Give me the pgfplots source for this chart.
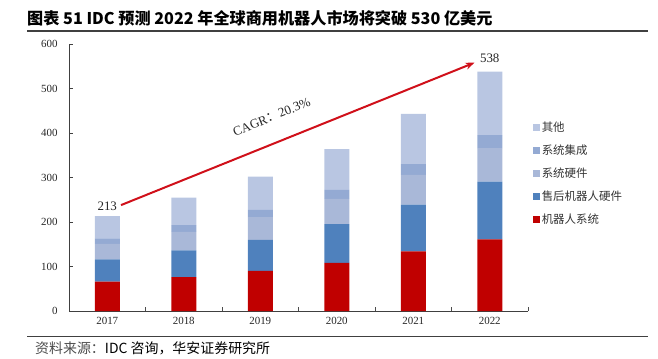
\documentclass[border=0pt]{standalone}
\usepackage{pgfplots}
\pgfplotsset{compat=1.18}
\usepackage{fontspec}
\setmainfont{Liberation Serif}
\newfontfamily\cjk{Noto Sans CJK SC}
\usetikzlibrary{arrows.meta}
\definecolor{cRed}{HTML}{C00000}
\definecolor{cBlue}{HTML}{4F81BD}
\definecolor{cHw}{HTML}{A9B8D8}
\definecolor{cInt}{HTML}{94AAD3}
\definecolor{cOth}{HTML}{B9C6E2}
\definecolor{cArrow}{HTML}{D0101A}
\begin{document}
\begin{tikzpicture}
\useasboundingbox (0bp,0bp) rectangle (658bp,359bp);
% title
\node[anchor=west, inner sep=0pt] at (27bp,341bp) {\cjk\bfseries\fontsize{16.2}{19}\selectfont 图表 51 IDC 预测 2022 年全球商用机器人市场将突破 530 亿美元};
\draw[black!75, line width=1.2bp] (27bp,328bp) -- (648bp,328bp);
\draw[black!75, line width=1bp] (27bp,22bp) -- (648bp,22bp);
\node[anchor=west, inner sep=0pt] at (35bp,11bp) {\cjk\fontsize{14}{16}\selectfont \textcolor{black!70}{资料来源：}IDC 咨询，华安证券研究所};
\begin{axis}[
  at={(69bp,48bp)}, anchor=south west,
  scale only axis, width=459bp, height=267bp,
  ybar stacked, bar width=25bp,
  xmin=-0.5, xmax=5.5, ymin=0, ymax=600,
  xtick={0,...,5}, xticklabels={2017,2018,2019,2020,2021,2022},
  minor xtick={-0.5,0.5,...,5.5},
  major x tick style={draw=none},
  minor x tick style={black!70},
  minor tick length=4bp,
  ytick={0,100,...,600},
  major tick length=4bp,
  tick align=inside,
  axis x line*=bottom, axis y line*=left,
  axis line style={black!75, -},
  y tick style={black!75},
  ticklabel style={font=\fontsize{11}{13}\selectfont, text=black!85},
  /pgf/number format/assume math mode=true,
  yticklabel style={xshift=-8bp},
  xticklabel style={yshift=-3bp},
  reverse legend,
  legend style={draw=none, fill=none, at={(1.01,0.715)}, anchor=north west,
    font=\cjk\fontsize{11.5}{13}\selectfont, text=black!80,
    row sep=7.8bp, inner sep=0pt,
    /tikz/every even column/.append style={column sep=0pt}},
  legend cell align=left,
  legend image code/.code={\fill[#1, draw=none] (0bp,-3.5bp) rectangle (7bp,3.5bp);},
  clip=false,
]
\addplot[fill=cRed, draw=none] coordinates {(0,66) (1,76) (2,90) (3,108) (4,134) (5,161)};
\addlegendentry{机器人系统}
\addplot[fill=cBlue, draw=none] coordinates {(0,50) (1,60) (2,70) (3,87) (4,105) (5,130)};
\addlegendentry{售后机器人硬件}
\addplot[fill=cHw, draw=none] coordinates {(0,35) (1,42) (2,51) (3,57) (4,67) (5,75)};
\addlegendentry{系统硬件}
\addplot[fill=cInt, draw=none] coordinates {(0,12) (1,15) (2,16) (3,20) (4,24) (5,29)};
\addlegendentry{系统集成}
\addplot[fill=cOth, draw=none] coordinates {(0,50) (1,62) (2,75) (3,92) (4,113) (5,143)};
\addlegendentry{其他}
\draw[cArrow, line width=2bp, -{Stealth[length=9bp,width=7bp]}] (axis cs:0.18,238) -- (axis cs:4.80,558);
\node[font=\fontsize{13}{15}\selectfont, text=black!85] at (axis cs:0,235) {213};
\node[font=\fontsize{13}{15}\selectfont, text=black!85] at (axis cs:5,568) {538};
\node[font=\fontsize{13}{15}\selectfont, text=black!85, rotate=22] at (axis cs:2.15,436) {CAGR{\cjk ：}20.3\%};
\end{axis}
\end{tikzpicture}
\end{document}
